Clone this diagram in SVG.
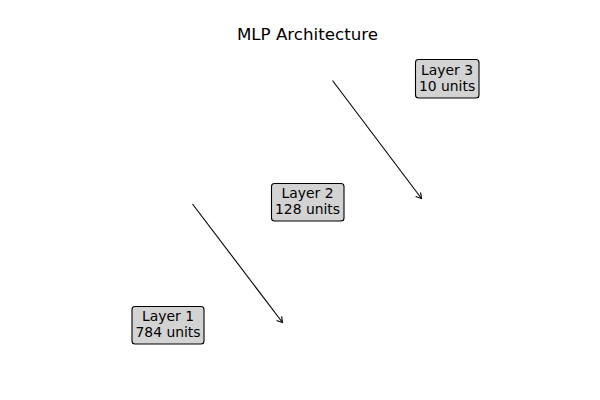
<svg xmlns="http://www.w3.org/2000/svg" width="600" height="400" viewBox="0 0 600 400">
<style>
text{font-family:"DejaVu Sans",sans-serif;fill:#000}
.lbl{font-size:13.9px;text-anchor:middle}
.box{fill:#d3d3d3;stroke:#000;stroke-width:1.1}
.conn{stroke:#000;stroke-width:1.1;fill:none}
.head{stroke:#000;stroke-width:1.1;fill:none;stroke-linecap:butt}
</style>
<rect width="600" height="400" fill="#fff"/>
<text x="307.5" y="40" font-size="16.7" text-anchor="middle">MLP Architecture</text>
<g id="connectors">
<line class="conn" x1="192.5" y1="204" x2="282.5" y2="322.5"/>
<polyline class="head" points="276.6,320.4 282.5,322.5 281.6,316.3"/>
<line class="conn" x1="332.5" y1="80.5" x2="421.5" y2="198.5"/>
<polyline class="head" points="415.6,196.4 421.5,198.5 420.6,192.3"/>
</g>
<g id="layer1">
<rect class="box" x="132" y="306.5" width="72" height="37.5" rx="3"/>
<text class="lbl" x="168" y="321">Layer 1</text>
<text class="lbl" x="168" y="337">784 units</text>
</g>
<g id="layer2">
<rect class="box" x="271.5" y="183.5" width="72.5" height="37.5" rx="3"/>
<text class="lbl" x="307.5" y="198">Layer 2</text>
<text class="lbl" x="307.5" y="214">128 units</text>
</g>
<g id="layer3">
<rect class="box" x="415.5" y="59.5" width="63.5" height="38.5" rx="3"/>
<text class="lbl" x="447" y="75">Layer 3</text>
<text class="lbl" x="447" y="91">10 units</text>
</g>
</svg>
